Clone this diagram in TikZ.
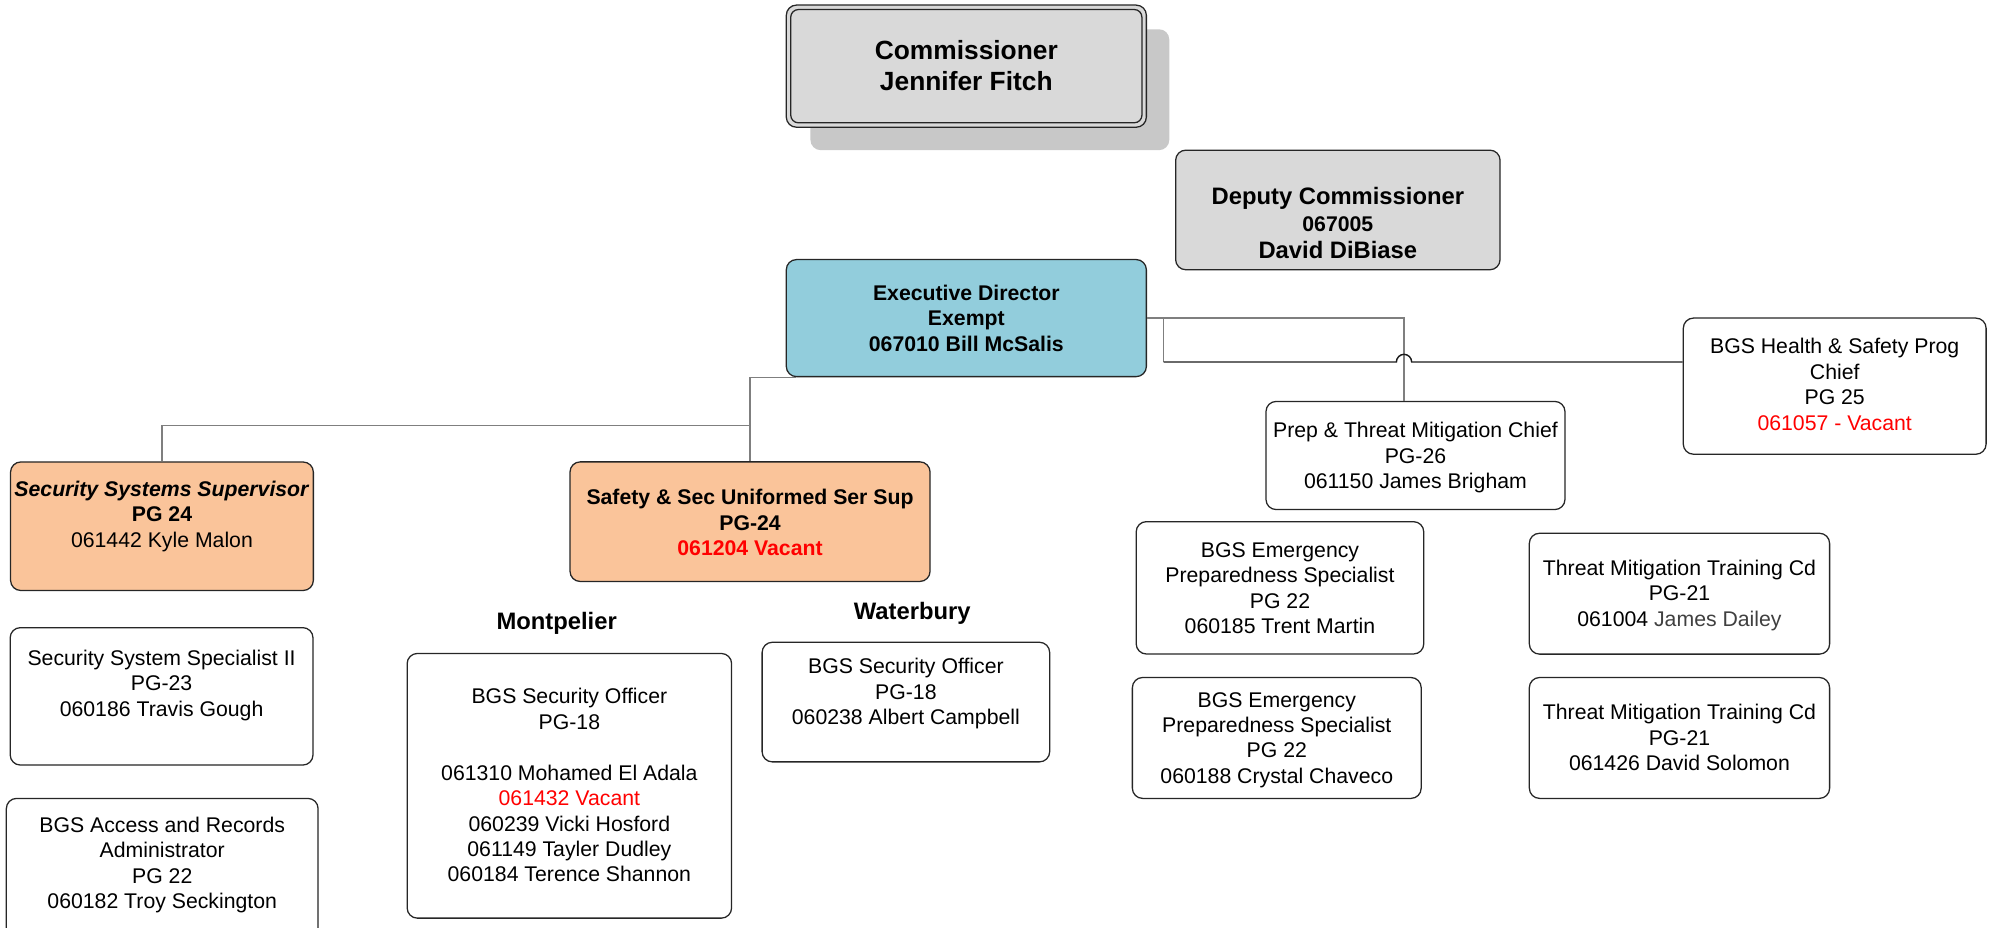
\documentclass[tikz,border=0pt]{standalone}
\usepackage{fontspec}
\setmainfont{Liberation Sans}
\definecolor{boxline}{HTML}{262626}
\definecolor{linkgray}{HTML}{7F7F7F}
\definecolor{hlinkc}{HTML}{1A1A1A}
\definecolor{cgray}{HTML}{D9D9D9}
\definecolor{shadowgray}{HTML}{C8C8C8}
\definecolor{execblue}{HTML}{92CDDC}
\definecolor{peach}{HTML}{FAC49A}
\definecolor{vacred}{HTML}{FF0000}
\definecolor{softtext}{HTML}{404040}
\begin{document}
\begin{tikzpicture}[x=1pt,y=-1pt,
  box/.style={draw=boxline, line width=1pt, rounded corners=8pt, inner sep=0pt, fill=white},
  txt/.style={align=center, inner sep=0pt, anchor=north, font=\fontsize{16.7}{20}\selectfont},
  place/.style={inner sep=0pt, font=\fontsize{18.7}{22}\selectfont\bfseries},
  link/.style={draw=linkgray, line width=1.1pt},
  hlink/.style={draw=hlinkc, line width=1.1pt}]

\useasboundingbox (0,0) rectangle (1568,729);
\clip (0,0) rectangle (1568,729);

% Commissioner, with its drop shadow and double frame
\node[fill=shadowgray, rounded corners=8pt, minimum width=282pt, minimum height=95pt, inner sep=0pt] (commshadow) at (778,70.5) {};
\node[box, fill=cgray, minimum width=283pt, minimum height=96pt] (comm) at (759.5,52) {};
\node[draw=boxline, line width=1pt, rounded corners=6pt, minimum width=276pt, minimum height=89pt, inner sep=0pt] (comminner) at (759.5,52) {};
\node[txt, font=\fontsize{20.7}{25}\selectfont\bfseries] (commt) at (759.5,28.8) {\strut Commissioner\\Jennifer Fitch};

% Deputy Commissioner
\node[box, fill=cgray, minimum width=255pt, minimum height=94pt] (dep) at (1051.5,165) {};
\node[txt, font=\fontsize{18.7}{21}\selectfont\bfseries] (dept) at (1051.5,146) {\strut Deputy Commissioner\\{\fontsize{16.7}{21}\selectfont 067005}\\David DiBiase};

% Executive Director
\node[box, fill=execblue, minimum width=283pt, minimum height=92pt] (exec) at (759.5,250) {};
\node[txt, font=\fontsize{16.7}{20}\selectfont\bfseries] (exect) at (759.5,222) {\strut Executive Director\\Exempt\\067010 Bill McSalis};

% Health & Safety
\node[box, minimum width=238pt, minimum height=107pt] (health) at (1442,303.5) {};
\node[txt] (healtht) at (1442,264) {\strut BGS Health \& Safety Prog\\Chief\\PG 25\\\textcolor{vacred}{061057 - Vacant}};

% Prep & Threat Mitigation Chief
\node[box, minimum width=235pt, minimum height=85pt] (prep) at (1112.5,358) {};
\node[txt] (prept) at (1112.5,330) {\strut Prep \& Threat Mitigation Chief\\PG-26\\061150 James Brigham};

% Security Systems Supervisor
\node[box, fill=peach, minimum width=238pt, minimum height=101pt] (sss) at (127.3,413.6) {};
\node[txt] (ssst) at (127.3,376) {\strut\textbf{\textit{Security Systems Supervisor}}\\\textbf{PG 24}\\061442 Kyle Malon};

% Safety & Sec Uniformed Ser Sup
\node[box, fill=peach, minimum width=283pt, minimum height=94pt] (safety) at (589.5,410) {};
\node[txt, font=\fontsize{16.7}{20}\selectfont\bfseries] (safetyt) at (589.5,382.4) {\strut Safety \& Sec Uniformed Ser Sup\\PG-24\\\textcolor{vacred}{061204 Vacant}};

% Security System Specialist II
\node[box, minimum width=238pt, minimum height=108pt] (spec) at (127,547.3) {};
\node[txt] (spect) at (127,508.6) {\strut Security System Specialist II\\PG-23\\060186 Travis Gough};

% BGS Access and Records Administrator
\node[box, minimum width=245pt, minimum height=125pt] (access) at (127.5,690) {};
\node[txt] (accesst) at (127.5,640) {\strut BGS Access and Records\\Administrator\\PG 22\\060182 Troy Seckington};

% Montpelier officers
\node[place] (montlbl) at (437.5,490) {Montpelier};
\node[box, minimum width=255pt, minimum height=208pt] (mont) at (447.5,617.6) {};
\node[txt] (montt) at (447.5,539) {\strut BGS Security Officer\\PG-18\\[20pt]061310 Mohamed El Adala\\\textcolor{vacred}{061432 Vacant}\\060239 Vicki Hosford\\061149 Tayler Dudley\\060184 Terence Shannon};

% Waterbury officer
\node[place] (waterlbl) at (717,482) {Waterbury};
\node[box, minimum width=226pt, minimum height=94pt] (water) at (712,551.8) {};
\node[txt] (watert) at (712,515.5) {\strut BGS Security Officer\\PG-18\\060238 Albert Campbell};

% Emergency preparedness specialists
\node[box, minimum width=226pt, minimum height=104pt] (emer1) at (1006,462) {};
\node[txt] (emer1t) at (1006,424) {\strut BGS Emergency\\Preparedness Specialist\\PG 22\\060185 Trent Martin};
\node[box, minimum width=227pt, minimum height=95pt] (emer2) at (1003.5,580) {};
\node[txt] (emer2t) at (1003.5,541.5) {\strut BGS Emergency\\Preparedness Specialist\\PG 22\\060188 Crystal Chaveco};

% Threat mitigation training coordinators
\node[box, minimum width=236pt, minimum height=95pt] (thr1) at (1320,466.6) {};
\node[txt] (thr1t) at (1320,438) {\strut Threat Mitigation Training Cd\\PG-21\\061004 \textcolor{softtext}{James Dailey}};
\node[box, minimum width=236pt, minimum height=95pt] (thr2) at (1320,580) {};
\node[txt] (thr2t) at (1320,551.4) {\strut Threat Mitigation Training Cd\\PG-21\\061426 David Solomon};

% Connectors below the Executive Director
\coordinate (jl) at (589.5,334.6);
\draw[link] ([xshift=8pt]exec.south west) -| (safety.north);
\draw[link] (jl) -| (sss.north);

% Connectors to the right of the Executive Director
\coordinate (jr) at (914.6,250);
\coordinate (jh) at (914.6,284.5);
\coordinate (hop) at (1097.5,284.5);
\draw[link] (exec.east) -| ([xshift=-9pt]prep.north);
\draw[link] (jr) -- (jh);
\draw[hlink] (jh) -- (hop) arc[start angle=180, end angle=0, radius=6pt] -- (health.west |- jh);

\end{tikzpicture}
\end{document}
